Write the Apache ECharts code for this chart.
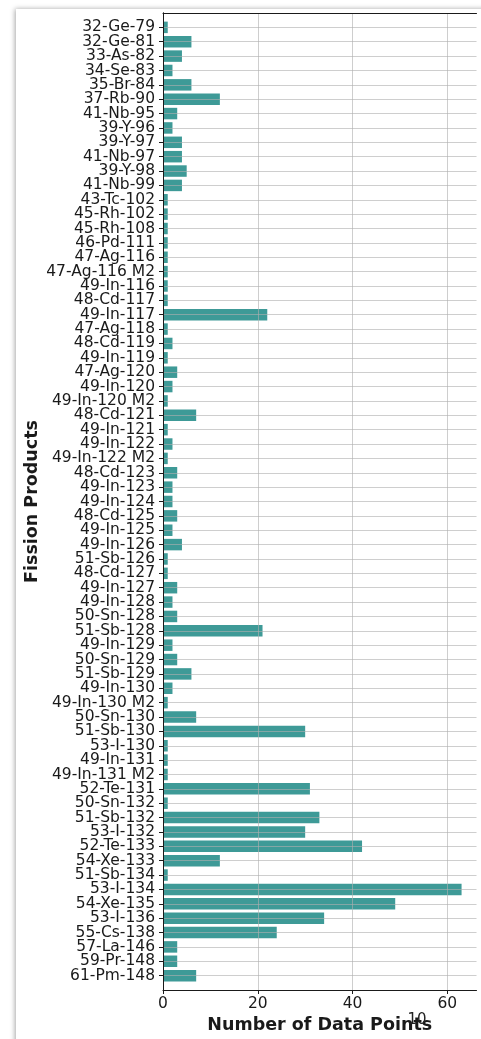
<!DOCTYPE html>
<html>
<head>
<meta charset="utf-8">
<style>
  html, body { margin: 0; padding: 0; background: #ffffff; }
  #chart { width: 481px; height: 1039px; }
</style>
<script src="https://cdn.jsdelivr.net/npm/echarts@6/dist/echarts.min.js"></script>
</head>
<body>
<div id="chart"></div>
<script>
// Fission products, listed top to bottom
const products = [
  '32-Ge-79', '32-Ge-81', '33-As-82', '34-Se-83', '35-Br-84', '37-Rb-90',
  '41-Nb-95', '39-Y-96', '39-Y-97', '41-Nb-97', '39-Y-98', '41-Nb-99',
  '43-Tc-102', '45-Rh-102', '45-Rh-108', '46-Pd-111', '47-Ag-116',
  '47-Ag-116 M2', '49-In-116', '48-Cd-117', '49-In-117', '47-Ag-118',
  '48-Cd-119', '49-In-119', '47-Ag-120', '49-In-120', '49-In-120 M2',
  '48-Cd-121', '49-In-121', '49-In-122', '49-In-122 M2', '48-Cd-123',
  '49-In-123', '49-In-124', '48-Cd-125', '49-In-125', '49-In-126',
  '51-Sb-126', '48-Cd-127', '49-In-127', '49-In-128', '50-Sn-128',
  '51-Sb-128', '49-In-129', '50-Sn-129', '51-Sb-129', '49-In-130',
  '49-In-130 M2', '50-Sn-130', '51-Sb-130', '53-I-130', '49-In-131',
  '49-In-131 M2', '52-Te-131', '50-Sn-132', '51-Sb-132', '53-I-132',
  '52-Te-133', '54-Xe-133', '51-Sb-134', '53-I-134', '54-Xe-135',
  '53-I-136', '55-Cs-138', '57-La-146', '59-Pr-148', '61-Pm-148'
];

// Number of data points per product
const dataPoints = [
  1, 6, 4, 2, 6, 12,
  3, 2, 4, 4, 5, 4,
  1, 1, 1, 1, 1,
  1, 1, 1, 22, 1,
  2, 1, 3, 2, 1,
  7, 1, 2, 1, 3,
  2, 2, 3, 2, 4,
  1, 1, 3, 2, 3,
  21, 2, 3, 6, 2,
  1, 7, 30, 1, 1,
  1, 31, 1, 33, 30,
  42, 12, 1, 63, 49,
  34, 24, 3, 3, 7
];

const xTicks = [0, 20, 40, 60];
const xMax = 66.15;

// one empty slot above and below the list gives the axis its end padding
const yCats = [''].concat(products, ['']);
const yVals = [null].concat(dataPoints, [null]);
const lastIdx = yCats.length - 1;
const inner = (i) => i > 0 && i < lastIdx;

const FONT = 'DejaVu Sans';
const INK = '#1a1a1a';
const GRID_LINE = { color: 'rgba(176,176,176,0.62)', width: 1 };

const chart = echarts.init(document.getElementById('chart'), null, { renderer: 'canvas' });

chart.setOption({
  animation: false,
  backgroundColor: 'transparent',
  graphic: [
    {
      type: 'rect',
      z: -10,
      silent: true,
      shape: { x: 16, y: 9, width: 600, height: 1200 },
      style: { fill: '#ffffff', shadowBlur: 5, shadowColor: 'rgba(0,0,0,0.35)', shadowOffsetX: -1, shadowOffsetY: 0 }
    },
    {
      type: 'text',
      z: 10,
      silent: true,
      x: 417,
      y: 1020,
      style: { text: '10', font: '15px "DejaVu Sans"', fill: '#222', align: 'center', verticalAlign: 'middle' }
    }
  ],
  grid: { left: 163, right: 4.5, top: 13, bottom: 46, containLabel: false },
  xAxis: [
    {
      type: 'value',
      position: 'bottom',
      min: 0,
      max: xMax,
      interval: 20,
      z: 3,
      name: 'Number of Data Points',
      nameLocation: 'middle',
      nameGap: 26,
      nameMoveOverlap: false,
      nameTextStyle: { fontFamily: FONT, fontSize: 17.5, fontWeight: 'bold', color: INK },
      axisLine: { show: true, lineStyle: { color: INK, width: 1 } },
      axisTick: { show: true, length: 4, lineStyle: { color: INK }, customValues: xTicks },
      axisLabel: { fontFamily: FONT, fontSize: 15.5, color: INK, margin: 6, customValues: xTicks },
      splitLine: { show: true, lineStyle: GRID_LINE }
    },
    {
      type: 'value',
      position: 'top',
      min: 0,
      max: xMax,
      z: 5,
      axisLine: { show: true, lineStyle: { color: INK, width: 1 } },
      axisTick: { show: false },
      axisLabel: { show: false },
      splitLine: { show: false }
    }
  ],
  yAxis: [
    {
      type: 'category',
      data: yCats,
      inverse: true,
      boundaryGap: false,
      position: 'left',
      z: 3,
      name: 'Fission Products',
      nameLocation: 'middle',
      nameGap: 122,
      nameMoveOverlap: false,
      nameRotate: 90,
      nameTextStyle: { fontFamily: FONT, fontSize: 17.5, fontWeight: 'bold', color: INK },
      axisLine: { show: true, lineStyle: { color: INK, width: 1 } },
      axisTick: { show: true, length: 4, interval: (i) => inner(i), lineStyle: { color: INK } },
      axisLabel: { interval: 0, fontFamily: FONT, fontSize: 15.5, color: INK, margin: 8 },
      splitLine: { show: true, interval: (i) => inner(i), lineStyle: GRID_LINE }
    },
    {
      type: 'category',
      data: yCats,
      inverse: true,
      boundaryGap: false,
      position: 'right',
      z: 5,
      axisLine: { show: true, lineStyle: { color: INK, width: 1 } },
      axisTick: { show: false },
      axisLabel: { show: false },
      splitLine: { show: false }
    }
  ],
  series: [
    {
      type: 'bar',
      xAxisIndex: 0,
      yAxisIndex: 0,
      data: yVals,
      barWidth: '80%',
      itemStyle: { color: '#3e9a97' }
    }
  ]
});
</script>
</body>
</html>
